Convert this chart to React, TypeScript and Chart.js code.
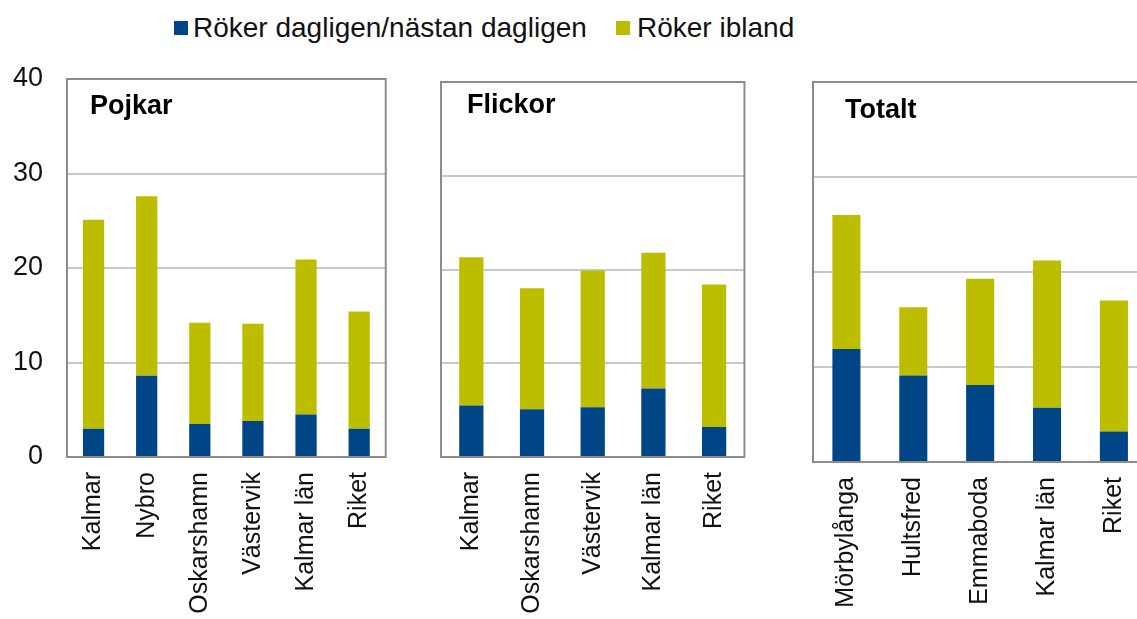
import React, { useEffect, useRef } from 'react';
import { Chart, registerables } from 'chart.js';

Chart.register(...registerables);

const SERIES_DAILY = 'Röker dagligen/nästan dagligen';
const SERIES_SOMETIMES = 'Röker ibland';

const pojkarLabels = ['Kalmar', 'Nybro', 'Oskarshamn', 'Västervik', 'Kalmar län', 'Riket'];
const pojkarDaily = [3.0, 8.6, 3.5, 3.8, 4.5, 3.0];
const pojkarIbland = [22.1, 19.0, 10.7, 10.3, 16.4, 12.4];

const flickorLabels = ['Kalmar', 'Oskarshamn', 'Västervik', 'Kalmar län', 'Riket'];
const flickorDaily = [5.5, 5.1, 5.3, 7.3, 3.2];
const flickorIbland = [15.8, 12.9, 14.6, 14.5, 15.2];

const totaltLabels = ['Mörbylånga', 'Hultsfred', 'Emmaboda', 'Kalmar län', 'Riket'];
const totaltDaily = [11.9, 9.1, 8.1, 5.7, 3.2];
const totaltIbland = [14.1, 7.2, 11.2, 15.5, 13.8];

const yTickValues = [0, 10, 20, 30, 40];

const BLUE = '#004687';
const OLIVE = '#BDBD00';
const FONT = '"Liberation Sans", Arial, Helvetica, sans-serif';

const panelPlugin = {
  id: 'panelDecor',
  afterDraw(chart: any, _args: any, opts: any) {
    const { ctx, chartArea: a } = chart;
    ctx.save();
    ctx.strokeStyle = '#8c8c8c';
    ctx.lineWidth = 2;
    ctx.strokeRect(a.left, a.top, a.right - a.left, a.bottom - a.top);
    ctx.fillStyle = '#000';
    ctx.font = 'bold 27px ' + FONT;
    ctx.textBaseline = 'middle';
    ctx.textAlign = 'left';
    ctx.fillText(opts.text, a.left + opts.dx, a.top + opts.dy);
    ctx.restore();
  },
};

type PanelProps = {
  title: string;
  labels: string[];
  daily: number[];
  ibland: number[];
  showTicks: boolean;
  left: number;
  width: number;
  padTop: number;
  padRight: number;
  yWidth: number;
  xHeight: number;
  barPct: number;
  titleDx: number;
  titleDy: number;
};

function Panel(p: PanelProps) {
  const ref = useRef<HTMLCanvasElement | null>(null);
  useEffect(() => {
    if (!ref.current) return;
    const chart = new Chart(ref.current, {
      type: 'bar',
      data: {
        labels: p.labels,
        datasets: [
          {
            label: SERIES_DAILY,
            data: p.daily,
            backgroundColor: BLUE,
            barPercentage: p.barPct,
            categoryPercentage: 1,
          },
          {
            label: SERIES_SOMETIMES,
            data: p.ibland,
            backgroundColor: OLIVE,
            barPercentage: p.barPct,
            categoryPercentage: 1,
          },
        ],
      },
      options: {
        responsive: false,
        animation: false,
        layout: { padding: { left: 0, top: p.padTop, right: p.padRight, bottom: 0 } },
        plugins: {
          legend: { display: false },
          tooltip: { enabled: false },
          panelDecor: { text: p.title, dx: p.titleDx, dy: p.titleDy },
        } as any,
        scales: {
          x: {
            stacked: true,
            grid: { display: false, drawTicks: false },
            border: { display: false },
            ticks: {
              autoSkip: false,
              minRotation: 90,
              maxRotation: 90,
              padding: 15,
              color: '#111',
              font: { family: FONT, size: 25 },
            },
            afterFit: (s: any) => {
              s.height = p.xHeight;
            },
          },
          y: {
            stacked: true,
            min: 0,
            max: 40,
            afterBuildTicks: (s: any) => {
              s.ticks = yTickValues.map((v) => ({ value: v }));
            },
            grid: { color: '#c8c8c8', lineWidth: 2, drawTicks: false },
            border: { display: false },
            ticks: {
              display: p.showTicks,
              padding: 24,
              color: '#111',
              font: { family: FONT, size: 27 },
            },
            afterFit: (s: any) => {
              s.width = p.yWidth;
            },
          },
        },
      },
      plugins: [panelPlugin],
    });
    return () => chart.destroy();
  }, []);
  return (
    <canvas
      ref={ref}
      width={p.width}
      height={619}
      style={{ position: 'absolute', left: p.left, top: 0, width: p.width, height: 619 }}
    />
  );
}

function LegendItem({ color, text, left, gap }: { color: string; text: string; left: number; gap: number }) {
  return (
    <div
      style={{
        position: 'absolute',
        left,
        top: 12,
        display: 'flex',
        alignItems: 'center',
        fontFamily: FONT,
        fontSize: 28,
        lineHeight: '32px',
        color: '#111',
        whiteSpace: 'nowrap',
      }}
    >
      <span style={{ display: 'inline-block', width: 14, height: 14, background: color, marginRight: gap }} />
      <span>{text}</span>
    </div>
  );
}

export default function App() {
  return (
    <div
      style={{
        position: 'absolute',
        left: 0,
        top: 0,
        width: 1137,
        height: 619,
        overflow: 'hidden',
        background: '#fff',
      }}
    >
      <LegendItem color={BLUE} text={SERIES_DAILY} left={174} gap={5} />
      <LegendItem color={OLIVE} text={SERIES_SOMETIMES} left={616} gap={7} />
      <Panel
        title="Pojkar"
        labels={pojkarLabels}
        daily={pojkarDaily}
        ibland={pojkarIbland}
        showTicks={true}
        left={0}
        width={405}
        padTop={79}
        padRight={10}
        yWidth={67}
        xHeight={162}
        barPct={0.4}
        titleDx={23}
        titleDy={28}
      />
      <Panel
        title="Flickor"
        labels={flickorLabels}
        daily={flickorDaily}
        ibland={flickorIbland}
        showTicks={false}
        left={420}
        width={340}
        padTop={82}
        padRight={9}
        yWidth={21}
        xHeight={162}
        barPct={0.4}
        titleDx={26}
        titleDy={24}
      />
      <Panel
        title="Totalt"
        labels={totaltLabels}
        daily={totaltDaily}
        ibland={totaltIbland}
        showTicks={false}
        left={790}
        width={370}
        padTop={82}
        padRight={11}
        yWidth={23}
        xHeight={157}
        barPct={0.42}
        titleDx={32}
        titleDy={29}
      />
    </div>
  );
}
